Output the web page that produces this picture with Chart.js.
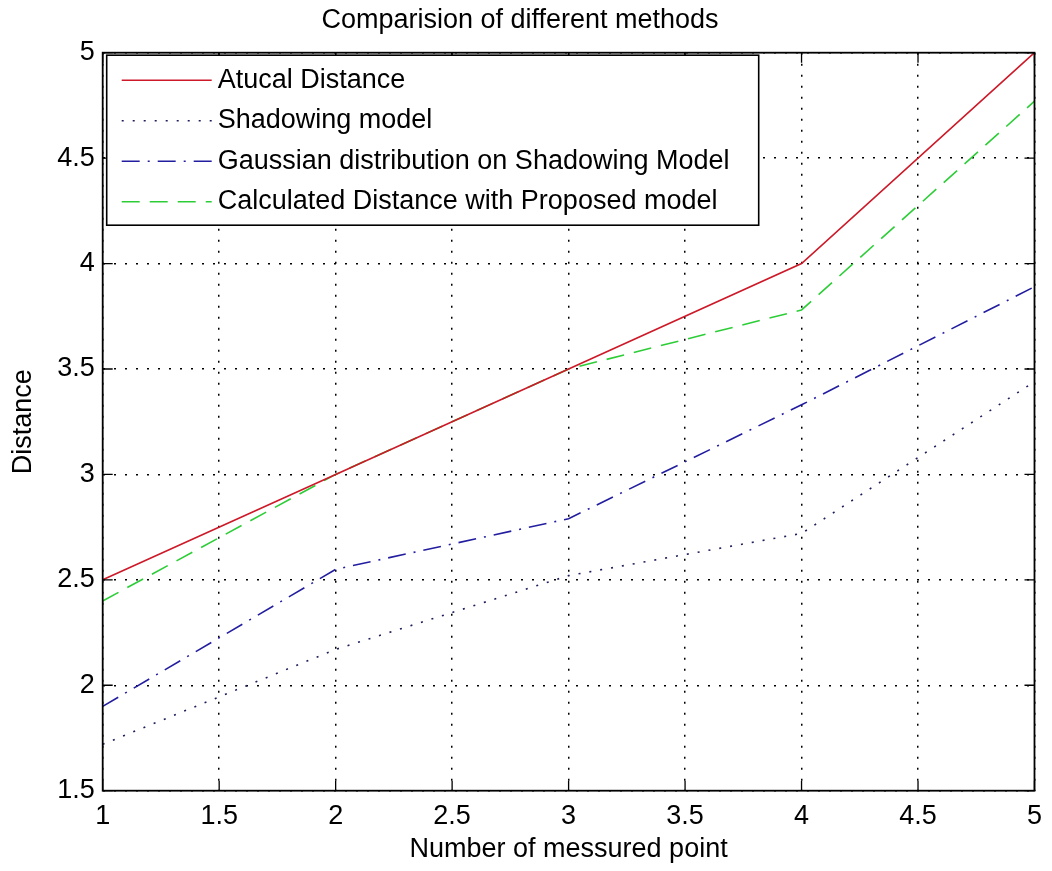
<!DOCTYPE html>
<html>
<head>
<meta charset="utf-8">
<script src="https://cdn.jsdelivr.net/npm/chart.js@4.4.0/dist/chart.umd.min.js"></script>
<style>
html,body{margin:0;padding:0;background:#fff;}
#wrap{width:1052px;height:871px;}
</style>
</head>
<body>
<div id="wrap"><canvas id="c"></canvas></div>
<script>
// values
const points     = [1, 2, 3, 4, 5];
const actualDist = [2.50, 3.00, 3.50, 4.00, 5.00];
const shadowing  = [1.72, 2.17, 2.52, 2.72, 3.44];
const gaussian   = [1.90, 2.55, 2.79, 3.33, 3.89];
const proposed   = [2.40, 3.00, 3.50, 3.78, 4.77];
const seriesNames = ['Atucal Distance', 'Shadowing model',
  'Gaussian distribution on Shadowing Model', 'Calculated Distance with Proposed model'];
const xTicks = [1, 1.5, 2, 2.5, 3, 3.5, 4, 4.5, 5];
const yTicks = [1.5, 2, 2.5, 3, 3.5, 4, 4.5, 5];

const FAM = "'Liberation Sans', Arial, sans-serif";
const xy = vals => vals.map((v, i) => ({x: points[i], y: v}));

function mk(label, vals, color, dash){
  return { label, data: xy(vals), borderColor: color, backgroundColor: color,
    borderWidth: 1.6, borderDash: dash, pointRadius: 0, tension: 0, fill: false };
}

// matlab-ish frame, inward ticks and the legend box inside the axes
const boxPlugin = {
  id: 'box',
  afterDraw(chart){
    const {ctx, chartArea: a, scales: {x, y}} = chart;
    ctx.save();
    ctx.strokeStyle = '#000';
    ctx.setLineDash([]);
    ctx.lineWidth = 1.3;
    ctx.beginPath();
    xTicks.forEach(v => {
      const p = x.getPixelForValue(v);
      ctx.moveTo(p, a.bottom); ctx.lineTo(p, a.bottom - 10);
      ctx.moveTo(p, a.top); ctx.lineTo(p, a.top + 10);
    });
    yTicks.forEach(v => {
      const p = y.getPixelForValue(v);
      ctx.moveTo(a.left, p); ctx.lineTo(a.left + 10, p);
      ctx.moveTo(a.right, p); ctx.lineTo(a.right - 10, p);
    });
    ctx.stroke();
    ctx.lineWidth = 1.8;
    ctx.strokeRect(a.left, a.top, a.right - a.left, a.bottom - a.top);

    // legend
    const lx = a.left + 4, ly = a.top + 2.5, lw = 652, lh = 170;
    ctx.fillStyle = '#fff';
    ctx.fillRect(lx, ly, lw, lh);
    ctx.lineWidth = 1.6;
    ctx.strokeRect(lx, ly, lw, lh);
    ctx.font = '27px ' + FAM;
    ctx.textBaseline = 'middle';
    chart.data.datasets.forEach((ds, i) => {
      const cy = ly + 25 + i * 40.5;
      ctx.strokeStyle = ds.borderColor;
      ctx.lineWidth = 1.6;
      ctx.setLineDash(ds.borderDash || []);
      ctx.beginPath();
      ctx.moveTo(lx + 15, cy); ctx.lineTo(lx + 105, cy);
      ctx.stroke();
      ctx.setLineDash([]);
      ctx.fillStyle = '#000';
      ctx.fillText(ds.label, lx + 111, cy);
    });
    ctx.restore();
  }
};

new Chart(document.getElementById('c'), {
  type: 'line',
  data: {
    datasets: [
      mk(seriesNames[0], actualDist, 'rgb(205,25,40)', []),
      mk(seriesNames[1], shadowing, 'rgb(30,30,90)', [2, 9]),
      mk(seriesNames[2], gaussian, 'rgb(35,30,160)', [18, 8, 2, 8]),
      mk(seriesNames[3], proposed, 'rgb(45,205,55)', [18, 10])
    ]
  },
  options: {
    responsive: true,
    maintainAspectRatio: false,
    animation: false,
    layout: { padding: { left: 0, right: 12, top: 0, bottom: 0 } },
    plugins: {
      legend: { display: false },
      tooltip: { enabled: false },
      title: {
        display: true, text: 'Comparision of different methods', color: '#000',
        font: { family: FAM, size: 27, weight: 'normal', lineHeight: 1.2 },
        padding: { top: 4, bottom: 16.3 }
      }
    },
    scales: {
      x: {
        type: 'linear', min: 1, max: 5,
        afterBuildTicks: s => { s.ticks = xTicks.map(v => ({value: v})); },
        afterFit: s => { s.height = 80.3; },
        grid: { color: '#000', lineWidth: 1.5, drawTicks: false },
        border: { display: false, dash: [2, 9] },
        ticks: { color: '#000', padding: 10, maxRotation: 0, callback: v => String(v),
          font: { family: FAM, size: 27 } },
        title: { display: true, text: 'Number of messured point', color: '#000',
          font: { family: FAM, size: 27 }, padding: { top: 0, bottom: 5 } }
      },
      y: {
        min: 1.5, max: 5,
        afterBuildTicks: s => { s.ticks = yTicks.map(v => ({value: v})); },
        afterFit: s => { s.width = 102.7; },
        grid: { color: '#000', lineWidth: 1.5, drawTicks: false },
        border: { display: false, dash: [2, 9] },
        ticks: { color: '#000', padding: 8, callback: v => String(v),
          font: { family: FAM, size: 27 } },
        title: { display: true, text: 'Distance', color: '#000',
          font: { family: FAM, size: 27 }, padding: { top: 7, bottom: 0 } }
      }
    }
  },
  plugins: [boxPlugin]
});
</script>
</body>
</html>
